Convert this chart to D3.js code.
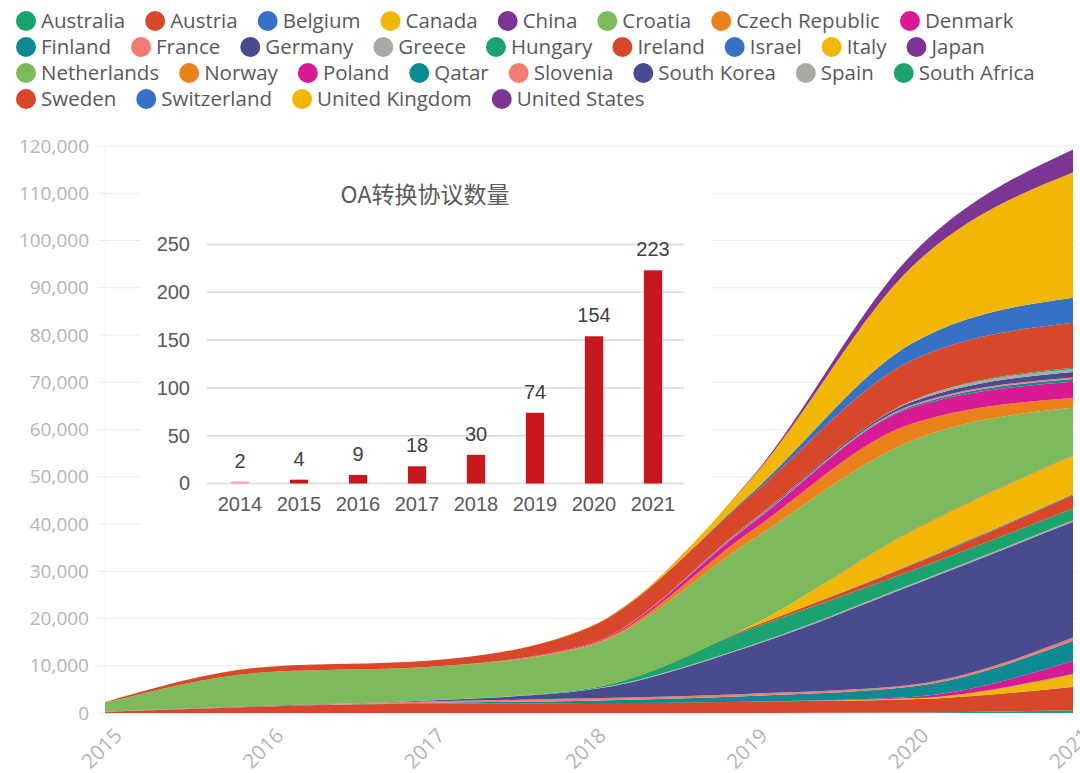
<!DOCTYPE html>
<html><head><meta charset="utf-8">
<script src="https://cdn.jsdelivr.net/npm/d3@7"></script>
<style>body{margin:0;background:#fff}</style>
</head><body><svg id="c" width="1080" height="773"></svg>
<script>
// ---------- data ----------
const years = [2015, 2016, 2017, 2018, 2019, 2020, 2021];
const countries = ["Australia","Austria","Belgium","Canada","China","Croatia","Czech Republic","Denmark",
  "Finland","France","Germany","Greece","Hungary","Ireland","Israel","Italy","Japan",
  "Netherlands","Norway","Poland","Qatar","Slovenia","South Korea","Spain","South Africa",
  "Sweden","Switzerland","United Kingdom","United States"];
const palette = ["#1AA36F","#D9472B","#3571C5","#F2B705","#7D3595","#7DBA5C","#EB811B","#D91A95",
  "#0E8A92","#F47B74","#4A4A8F","#A8ABA3"];

const vAustralia     = [0, 0, 0, 0, 0, 100, 600];
const vAustria       = [250, 1400, 2000, 2100, 2400, 2800, 4900];
const vBelgium       = [0, 0, 0, 0, 0, 0, 80];
const vCanada        = [0, 0, 0, 0, 0, 200, 2500];
const vChina         = [0, 0, 0, 0, 0, 0, 40];
const vCroatia       = [0, 0, 0, 0, 0, 0, 80];
const vCzech         = [0, 0, 0, 0, 0, 0, 80];
const vDenmark       = [0, 0, 0, 0, 0, 300, 2800];
const vFinland       = [0, 0, 150, 500, 1200, 2200, 4200];
const vFrance        = [0, 50, 300, 500, 500, 400, 700];
const vGermany       = [0, 100, 200, 1800, 10000, 21000, 24500];
const vGreece        = [0, 0, 0, 100, 200, 300, 300];
const vHungary       = [0, 0, 0, 200, 3500, 2800, 2500];
const vIreland       = [0, 0, 0, 0, 300, 1200, 2800];
const vIsrael        = [0, 0, 0, 0, 0, 200, 200];
const vItaly         = [0, 0, 0, 0, 300, 7000, 8200];
const vJapan         = [0, 0, 0, 0, 0, 100, 100];
const vNetherlands   = [1900, 7100, 7100, 9000, 18000, 19000, 10000];
const vNorway        = [0, 0, 0, 200, 2000, 3600, 2100];
const vPoland        = [0, 0, 0, 200, 1500, 3400, 3400];
const vQatar         = [0, 0, 0, 0, 100, 300, 600];
const vSlovenia      = [0, 0, 0, 0, 100, 300, 300];
const vSouthKorea    = [0, 0, 0, 0, 200, 600, 1200];
const vSpain         = [0, 0, 0, 0, 100, 300, 600];
const vSouthAfrica   = [0, 0, 0, 0, 0, 0, 300];
const vSweden        = [150, 1100, 1300, 3500, 5500, 8500, 9500];
const vSwitzerland   = [0, 0, 0, 0, 400, 3600, 5300];
const vUK            = [0, 0, 0, 100, 3000, 16200, 26500];
const vUS            = [0, 0, 0, 0, 200, 2600, 4900];

const seriesValues = [vAustralia,vAustria,vBelgium,vCanada,vChina,vCroatia,vCzech,vDenmark,
  vFinland,vFrance,vGermany,vGreece,vHungary,vIreland,vIsrael,vItaly,vJapan,
  vNetherlands,vNorway,vPoland,vQatar,vSlovenia,vSouthKorea,vSpain,vSouthAfrica,
  vSweden,vSwitzerland,vUK,vUS];

const yTicks = [0,10000,20000,30000,40000,50000,60000,70000,80000,90000,100000,110000,120000];

// inset bar chart
const insetTitle = "OA转换协议数量";
const barYears = ["2014","2015","2016","2017","2018","2019","2020","2021"];
const barValues = [2, 4, 9, 18, 30, 74, 154, 223];
const barTicks = [0, 50, 100, 150, 200, 250];

// ---------- build ----------
const svg = d3.select("#c");
const table = years.map((y, i) => {
  const row = {year: y};
  countries.forEach((c, k) => row[c] = seriesValues[k][i]);
  return row;
});
const color = d3.scaleOrdinal(countries, countries.map((c, i) => palette[i % palette.length]));

// legend
const legend = svg.append("g");
const legFont = "'Open Sans', 'Segoe UI', sans-serif";
let lx = 16, row = 0;
const rowY = [21, 47, 73, 99];
const maxX = 1070;
countries.forEach(c => {
  const g = legend.append("g");
  const t = g.append("text").attr("font-family", legFont).attr("font-size", 20.5)
    .attr("fill", "#595959").attr("dy", "0.35em").text(c);
  const w = t.node().getComputedTextLength();
  if (lx + 26 + w > maxX) { row++; lx = 16; }
  g.attr("transform", `translate(${lx},${rowY[row]})`);
  g.insert("circle", "text").attr("cx", 10).attr("cy", 0).attr("r", 10).attr("fill", color(c));
  t.attr("x", 25);
  lx += 25 + w + 20;
});

// main chart
const x = d3.scaleLinear().domain([2015, 2021]).range([105, 1073]);
const y = d3.scaleLinear().domain([0, 120000]).range([713, 146]);

const grid = svg.append("g");
grid.selectAll("line").data(yTicks).join("line")
  .attr("x1", 98).attr("x2", 1076).attr("y1", d => y(d)).attr("y2", d => y(d))
  .attr("stroke", "#ececec").attr("stroke-width", 1);
svg.append("line").attr("x1", 105).attr("x2", 105).attr("y1", 146).attr("y2", 713)
  .attr("stroke", "#f0f0f0");

// inset background (hides main gridlines behind the inset)
svg.append("rect").attr("x", 140).attr("y", 160).attr("width", 572).attr("height", 372).attr("fill", "#fff");

const yAxis = d3.axisLeft(y).tickValues(yTicks).tickFormat(d3.format(",")).tickSize(0).tickPadding(0);
const ya = svg.append("g").attr("transform", "translate(89,0)").call(yAxis);
ya.select(".domain").remove();
ya.selectAll("text").attr("font-family", legFont).attr("font-size", 19).attr("fill", "#b4b4b4");

const stack = d3.stack().keys(countries);
const layers = stack(table);
const area = d3.area().curve(d3.curveMonotoneX)
  .x(d => x(d.data.year)).y0(d => y(d[0])).y1(d => y(d[1]));
svg.append("g").selectAll("path").data(layers).join("path")
  .attr("d", area).attr("fill", d => color(d.key));

const xAxis = d3.axisBottom(x).tickValues(years).tickFormat(d3.format("d")).tickSize(0).tickPadding(0);
const xa = svg.append("g").attr("transform", "translate(0,726)").call(xAxis);
xa.select(".domain").remove();
xa.selectAll("text").attr("font-family", legFont).attr("font-size", 20.5).attr("fill", "#b4b4b4")
  .attr("text-anchor", "end").attr("dy", "0.75em").attr("transform", "translate(7,0) rotate(-45)");

// inset
const inset = svg.append("g");
const bx = d3.scaleBand().domain(barYears).range([210.5, 682.5]).paddingInner(0.69).paddingOuter(0.345);
const by = d3.scaleLinear().domain([0, 250]).range([483.5, 244.5]);
const insFont = "'Liberation Sans', Arial, sans-serif";
inset.append("g").selectAll("line").data(barTicks).join("line")
  .attr("x1", 207).attr("x2", 684).attr("y1", d => by(d)).attr("y2", d => by(d))
  .attr("stroke", "#d9d9d9").attr("stroke-width", 1.5);
const iya = inset.append("g").attr("transform", "translate(190,0)")
  .call(d3.axisLeft(by).tickValues(barTicks).tickSize(0).tickPadding(0));
iya.select(".domain").remove();
iya.selectAll("text").attr("font-family", insFont).attr("font-size", 20).attr("fill", "#595959");
const ixa = inset.append("g").attr("transform", "translate(0,497)")
  .call(d3.axisBottom(bx).tickSize(0).tickPadding(0));
ixa.select(".domain").remove();
ixa.selectAll("text").attr("font-family", insFont).attr("font-size", 20).attr("fill", "#595959");
inset.append("g").selectAll("rect").data(barValues).join("rect")
  .attr("x", (d, i) => bx(barYears[i])).attr("width", bx.bandwidth())
  .attr("y", d => by(d)).attr("height", d => by(0) - by(d))
  .attr("fill", (d, i) => i === 0 ? "#F4A0A0" : "#C8171F");
inset.append("g").selectAll("text").data(barValues).join("text")
  .attr("x", (d, i) => bx(barYears[i]) + bx.bandwidth() / 2)
  .attr("y", d => by(d) - 14).attr("text-anchor", "middle")
  .attr("font-family", insFont).attr("font-size", 20).attr("fill", "#404040").text(d => d);
inset.append("text").attr("x", 425).attr("y", 203).attr("text-anchor", "middle")
  .attr("font-family", "'Noto Sans CJK SC', sans-serif").attr("font-size", 23).attr("fill", "#595959")
  .text(insetTitle);
</script>
</body></html>
